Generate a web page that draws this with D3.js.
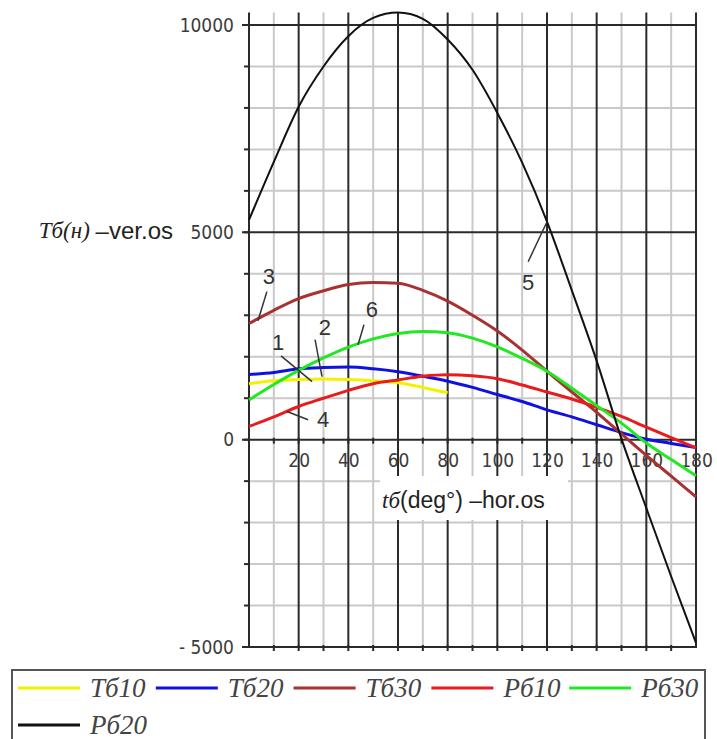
<!DOCTYPE html>
<html lang="en">
<head>
<meta charset="UTF-8">
<title>Tб / Pб</title>
<script src="https://d3js.org/d3.v7.min.js"></script>
<style>
  body { margin: 0; background: #fff; }
</style>
</head>
<body>
<svg id="chart" width="717" height="739"></svg>
<script>
// values, every 10 deg
const degrees = [0, 10, 20, 30, 40, 50, 60, 70, 80, 90, 100, 110, 120, 130, 140, 150, 160, 170, 180];
const t610 = [1350, 1420, 1450, 1465, 1450, 1420, 1370, 1260, 1130]; // stops at 80 deg
const t620 = [1570, 1620, 1710, 1740, 1750, 1710, 1640, 1530, 1410, 1260, 1090, 920, 720, 550, 360, 170, 10, -90, -190];
const t630 = [2800, 3120, 3400, 3590, 3740, 3790, 3770, 3600, 3340, 3000, 2620, 2160, 1650, 1150, 660, 140, -380, -880, -1380];
const p610 = [320, 550, 800, 1000, 1190, 1350, 1440, 1530, 1566, 1540, 1470, 1320, 1150, 980, 780, 560, 300, 50, -200];
const p630 = [960, 1330, 1670, 1970, 2230, 2430, 2560, 2610, 2580, 2450, 2240, 1960, 1650, 1240, 820, 400, -80, -480, -870];
const p620 = [5300, 6700, 8030, 9000, 9730, 10170, 10300, 10150, 9650, 8920, 7880, 6680, 5260, 3600, 1900, 20, -1650, -3300, -4900];

const seriesNames = ["Tб10", "Tб20", "Tб30", "Pб10", "Pб30", "Pб20"];
const seriesColors = ["#f2f200", "#1010e0", "#a83232", "#e81c1c", "#22e822", "#111111"];
const seriesValues = [t610, t620, t630, p610, p630, p620];

const yMajor = [-5000, 0, 5000, 10000];
const xLabels = [20, 40, 60, 80, 100, 120, 140, 160, 180];

// curve numbers: label point and leader line, in data units (deg, value)
const notes = [
  { text: "3", at: [8.0, 3930], from: [7.2, 3570], to: [3.6, 2870] },
  { text: "1", at: [11.7, 2340], from: [12.9, 2020], to: [25.4, 1400] },
  { text: "2", at: [30.6, 2700], from: [26.6, 2410], to: [29.4, 1520] },
  { text: "6", at: [49.5, 3130], from: [46.3, 2770], to: [43.9, 2290] },
  { text: "4", at: [29.8, 480], from: [15.3, 680], to: [23.8, 480] },
  { text: "5", at: [112.4, 3780], from: [112.4, 4290], to: [120, 5254] }
];

const svg = d3.select("#chart");

const x = d3.scaleLinear().domain([0, 180]).range([249, 696]);
const y = d3.scaleLinear().domain([-5000, 10000]).range([647, 25]);
const yTop = y(10300);

const grid = svg.append("g");

// minor grid
grid.selectAll("line.vmin").data(d3.range(10, 180, 20)).join("line")
  .attr("x1", d => x(d)).attr("x2", d => x(d))
  .attr("y1", yTop).attr("y2", y(-5000))
  .attr("stroke", "#c9c9c9").attr("stroke-width", 2);
grid.selectAll("line.hmin").data(d3.range(-5000, 10001, 1000).filter(d => d % 5000 !== 0)).join("line")
  .attr("x1", x(0)).attr("x2", x(180))
  .attr("y1", d => y(d)).attr("y2", d => y(d))
  .attr("stroke", "#c9c9c9").attr("stroke-width", 2);

// major grid
grid.selectAll("line.vmaj").data(d3.range(0, 181, 20)).join("line")
  .attr("x1", d => x(d)).attr("x2", d => x(d))
  .attr("y1", yTop).attr("y2", y(-5000) + 1)
  .attr("stroke", "#2a2a2a").attr("stroke-width", 2);
grid.selectAll("line.hmaj").data(yMajor).join("line")
  .attr("x1", x(0) - 7).attr("x2", x(180) + 1)
  .attr("y1", d => y(d)).attr("y2", d => y(d))
  .attr("stroke", "#2a2a2a").attr("stroke-width", 2);

// small ticks on the left axis and on the zero / bottom lines
grid.selectAll("line.ytk").data(d3.range(-5000, 10001, 1000)).join("line")
  .attr("x1", x(0) - 5).attr("x2", x(0))
  .attr("y1", d => y(d)).attr("y2", d => y(d))
  .attr("stroke", "#2a2a2a").attr("stroke-width", 2);
[0, -5000].forEach(v => {
  grid.selectAll(null).data(d3.range(10, 180, 10)).join("line")
    .attr("x1", d => x(d)).attr("x2", d => x(d))
    .attr("y1", y(v) - 2).attr("y2", y(v) + 4)
    .attr("stroke", "#2a2a2a").attr("stroke-width", 2);
});

// y labels
const yAxis = d3.axisLeft(y).tickValues(yMajor).tickSize(0).tickPadding(15)
  .tickFormat(d => d < 0 ? "- " + Math.abs(d) : String(d));
const gy = svg.append("g").attr("transform", `translate(${x(0)},0)`).call(yAxis);
gy.select(".domain").remove();
gy.selectAll("text").attr("font-family", "'DejaVu Sans Condensed', 'DejaVu Sans', sans-serif")
  .attr("font-size", 19).attr("fill", "#3c3c3c");

// x labels
const xAxis = d3.axisBottom(x).tickValues(xLabels).tickSize(0).tickPadding(14);
const gx = svg.append("g").attr("transform", `translate(0,${y(0)})`).call(xAxis);
gx.select(".domain").remove();
gx.selectAll("text").attr("font-family", "'DejaVu Sans Condensed', 'DejaVu Sans', sans-serif")
  .attr("font-size", 19).attr("fill", "#3c3c3c");

// curves
const line = d3.line().x((d, i) => x(degrees[i])).y(d => y(d)).curve(d3.curveMonotoneX);
svg.append("g").selectAll("path").data(seriesValues).join("path")
  .attr("d", d => line(d))
  .attr("fill", "none")
  .attr("stroke", (d, i) => seriesColors[i])
  .attr("stroke-width", (d, i) => i === 5 ? 2 : 3);

// curve numbers
const ng = svg.append("g");
ng.selectAll("line").data(notes).join("line")
  .attr("x1", d => x(d.from[0])).attr("y1", d => y(d.from[1]))
  .attr("x2", d => x(d.to[0])).attr("y2", d => y(d.to[1]))
  .attr("stroke", "#333").attr("stroke-width", 1.5);
ng.selectAll("text").data(notes).join("text")
  .attr("x", d => x(d.at[0])).attr("y", d => y(d.at[1]))
  .attr("text-anchor", "middle").attr("dominant-baseline", "central")
  .attr("font-family", "'Liberation Sans', Arial, sans-serif")
  .attr("font-size", 22).attr("fill", "#333")
  .text(d => d.text);

// axis captions
const cap = svg.append("text").attr("x", 173).attr("y", 230)
  .attr("text-anchor", "end").attr("dominant-baseline", "central").attr("fill", "#222");
cap.append("tspan").attr("font-family", "'Liberation Serif', serif").attr("font-style", "italic")
  .attr("font-size", 23).text("Tб(н) ");
cap.append("tspan").attr("font-family", "'Liberation Sans', Arial, sans-serif")
  .attr("font-size", 24).text("–ver.os");

svg.append("rect").attr("x", 380).attr("y", 476).attr("width", 188).attr("height", 44).attr("fill", "#fff");
const capx = svg.append("text").attr("x", 382).attr("y", 500)
  .attr("dominant-baseline", "central").attr("fill", "#222");
capx.append("tspan").attr("font-family", "'Liberation Serif', serif").attr("font-style", "italic")
  .attr("font-size", 23).text("tб");
capx.append("tspan").attr("font-family", "'Liberation Sans', Arial, sans-serif")
  .attr("font-size", 23).text("(deg°) –hor.os");

// legend
const lg = svg.append("g");
lg.append("rect").attr("x", 12).attr("y", 670).attr("width", 693).attr("height", 80)
  .attr("fill", "#fff").attr("stroke", "#555").attr("stroke-width", 2);
const item = lg.selectAll("g").data(seriesNames).join("g")
  .attr("transform", (d, i) => `translate(${18 + (i % 5) * 137.8},${i < 5 ? 688 : 725})`);
item.append("line").attr("x1", 0).attr("x2", 62)
  .attr("stroke", (d, i) => seriesColors[i]).attr("stroke-width", 3);
item.append("text").attr("x", 72).attr("dominant-baseline", "central")
  .attr("font-family", "'Liberation Serif', serif").attr("font-style", "italic")
  .attr("font-size", 27).attr("fill", "#444")
  .text(d => d);
</script>
</body>
</html>
